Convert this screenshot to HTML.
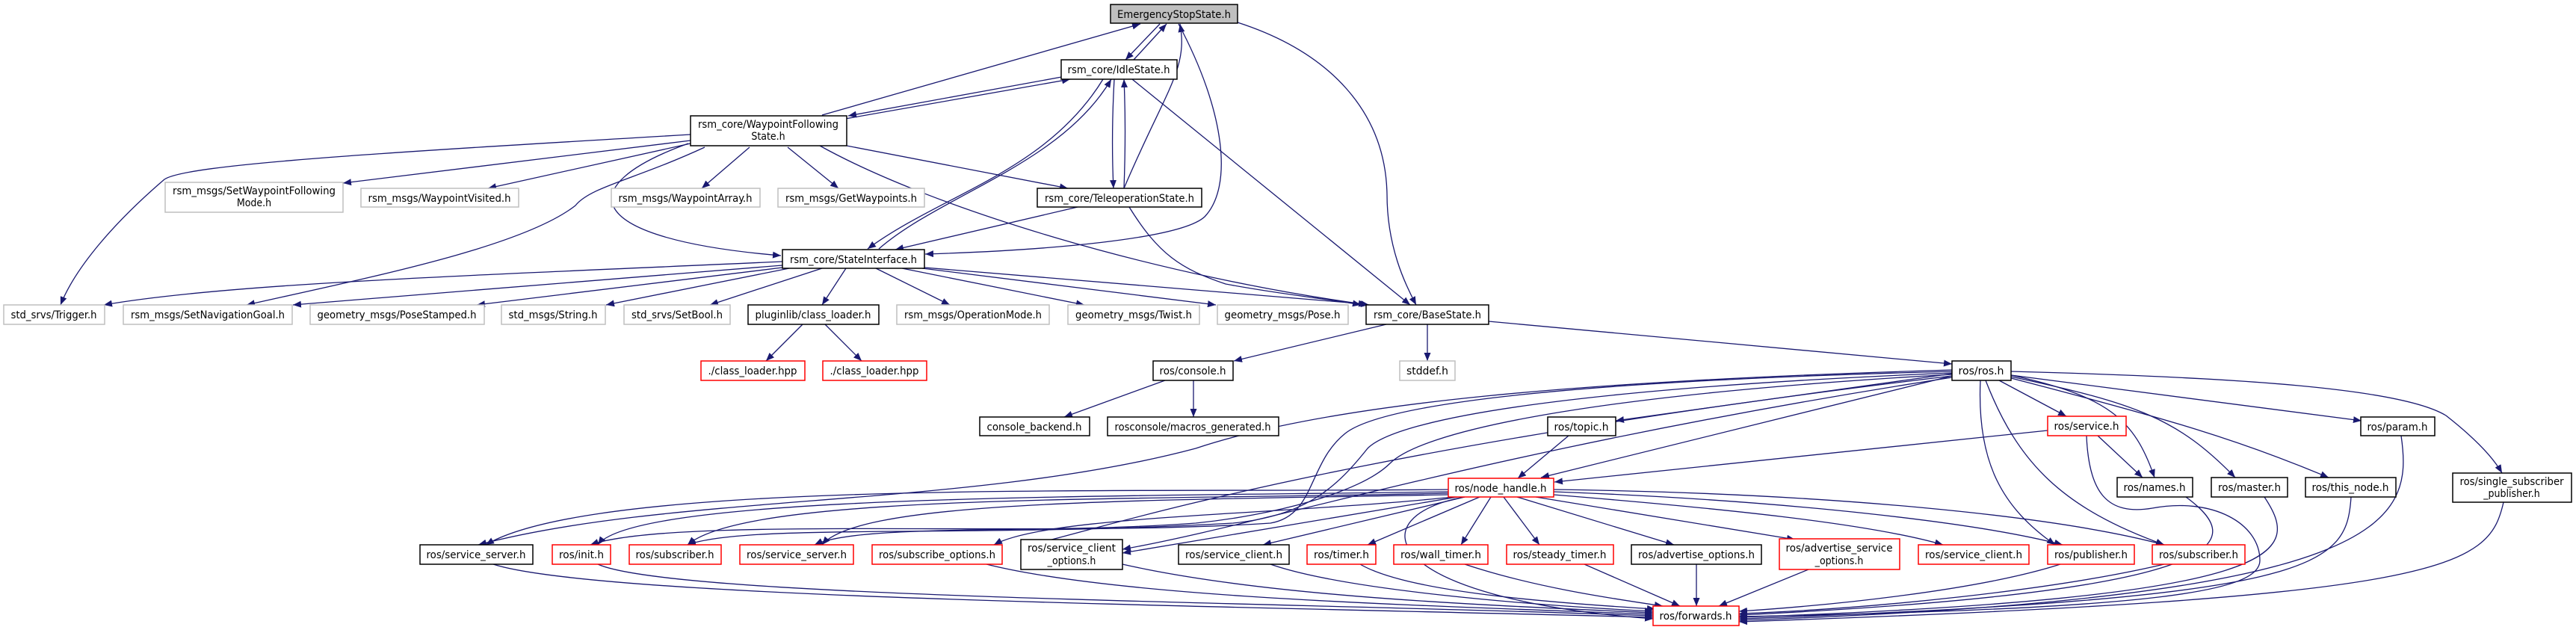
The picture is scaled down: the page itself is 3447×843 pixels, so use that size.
<!DOCTYPE html>
<html><head><meta charset="utf-8"><style>
html,body{margin:0;padding:0;background:#fff;}
svg{display:block;}
.e{fill:none;stroke:#191970;stroke-width:1.3;marker-end:url(#a);}
text{font-family:"DejaVu Sans Condensed","DejaVu Sans","Liberation Sans",sans-serif;font-size:14px;fill:#000;text-anchor:middle;}
.g{fill:#fff;stroke:#bfbfbf;stroke-width:1.5;}
.b{fill:#fff;stroke:#000;stroke-width:1.5;}
.r{fill:#fff;stroke:#ff0000;stroke-width:1.5;}
.s{fill:#bfbfbf;stroke:#000;stroke-width:1.5;}
</style></head><body>
<svg width="3447" height="843" viewBox="0 0 3447 843" xmlns="http://www.w3.org/2000/svg">
<defs><marker id="a" markerUnits="userSpaceOnUse" markerWidth="12" markerHeight="9" refX="11" refY="4.5" orient="auto"><path d="M0,0 L11,4.5 L0,9 z" fill="#191970"/></marker></defs>

<!-- edges -->
<path class="e" d="M1100,154 L1526,32"/>
<path class="e" d="M1552,32 L1506,80"/>
<path class="e" d="M1517,80 L1561,32"/>
<path class="e" d="M1504,252 C1560,120 1590,93 1579,32"/>
<path class="e" d="M1577,32 C1640,150 1650,250 1612,290 C1580,320 1400,335 1238,340"/>
<path class="e" d="M1656,30 C1780,70 1854,150 1856,260 C1856,330 1880,380 1895,408"/>
<path class="e" d="M1131,159 L1432,106"/>
<path class="e" d="M1426,102 L1135,155"/>
<path class="e" d="M1476,106 C1400,230 1260,260 1161,333"/>
<path class="e" d="M1176,333 C1260,260 1420,220 1487,106"/>
<path class="e" d="M1491,106 C1488,160 1488,210 1490,252"/>
<path class="e" d="M1504,252 C1506,200 1506,150 1504,106"/>
<path class="e" d="M1515,106 L1887,408"/>
<path class="e" d="M1133,195 L1429,252"/>
<path class="e" d="M1097,195 C1250,280 1550,370 1832,408"/>
<path class="e" d="M921,192 C760,250 780,320 1045,342"/>
<path class="e" d="M924,180 C500,205 250,220 220,240 C150,300 100,360 81,408"/>
<path class="e" d="M924,188 L459,245"/>
<path class="e" d="M924,192 L653,252"/>
<path class="e" d="M943,197 C850,240 790,250 770,275 C700,330 500,370 330,408"/>
<path class="e" d="M1003,197 L939,252"/>
<path class="e" d="M1054,197 L1122,252"/>
<path class="e" d="M1442,277 L1198,334"/>
<path class="e" d="M1511,277 C1550,340 1580,360 1640,380 C1720,395 1780,400 1821,408"/>
<path class="e" d="M1047,350 C600,370 300,380 139,408"/>
<path class="e" d="M1047,355 L392,408"/>
<path class="e" d="M1047,358 L638,408"/>
<path class="e" d="M1056,359 L811,408"/>
<path class="e" d="M1100,359 L950,408"/>
<path class="e" d="M1132,359 L1100,408"/>
<path class="e" d="M1172,359 L1271,408"/>
<path class="e" d="M1207,359 L1451,408"/>
<path class="e" d="M1234,359 L1627,408"/>
<path class="e" d="M1237,358 L1829,407"/>
<path class="e" d="M1074,434 L1025,483"/>
<path class="e" d="M1104,434 L1153,483"/>
<path class="e" d="M1855,434 L1651,483"/>
<path class="e" d="M1910,434 L1910,483"/>
<path class="e" d="M1992,430 L2612,487"/>
<path class="e" d="M1559,509 L1424,558"/>
<path class="e" d="M1597,509 L1597,558"/>
<path class="e" d="M2675,509 L2765,557"/>
<path class="e" d="M2691,502 L3160,563"/>
<path class="e" d="M2691,497 C3000,505 3214,520 3273,556 C3310,585 3335,610 3348,633"/>
<path class="e" d="M2691,502 C2820,530 2856,560 2883,639"/>
<path class="e" d="M2691,504 C2860,540 2914,560 2991,639"/>
<path class="e" d="M2691,506 C2900,560 3000,590 3116,639"/>
<path class="e" d="M2807,583 L2867,639"/>
<path class="e" d="M2740,576 L2080,645"/>
<path class="e" d="M2792,583 C2795,660 2820,690 2880,680 C2960,665 3024,700 3024,750 C3024,790 2900,815 2327,825"/>
<path class="e" d="M2612,500 L2162,563"/>
<path class="e" d="M2612,503 L2062,639"/>
<path class="e" d="M2650,509 C2645,620 2680,680 2750,729"/>
<path class="e" d="M2657,509 C2700,620 2760,680 2896,729"/>
<path class="e" d="M2099,583 L2031,640"/>
<!-- ros.h to left row -->
<path class="e" d="M2612,495 C2100,510 1780,540 1600,600 C1300,680 900,660 640,729"/>
<path class="e" d="M2612,497 C2100,510 1850,540 1800,580 C1750,620 1760,690 1700,700 C1400,720 900,690 790,729"/>
<path class="e" d="M2612,499 C2100,520 1870,560 1830,600 C1790,650 1750,690 1650,700 C1300,720 1000,700 920,729"/>
<path class="e" d="M2612,501 C2100,530 1900,580 1860,620 C1820,660 1700,690 1600,700 C1400,715 1150,700 1090,729"/>
<path class="e" d="M2612,503 C1800,600 1500,700 1380,729"/>
<path class="e" d="M2612,505 C2000,600 1700,700 1502,735"/>
<!-- node_handle to row -->
<path class="e" d="M1938,655 C1500,660 800,640 650,729"/>
<path class="e" d="M1938,658 C1500,665 850,660 800,729"/>
<path class="e" d="M1938,660 C1500,670 1000,660 920,729"/>
<path class="e" d="M1938,662 C1500,670 1150,670 1100,729"/>
<path class="e" d="M1945,665 C1700,690 1400,690 1330,729"/>
<path class="e" d="M1950,665 L1502,740"/>
<path class="e" d="M1960,665 L1690,729"/>
<path class="e" d="M1980,665 L1830,729"/>
<path class="e" d="M1995,665 L1955,729"/>
<path class="e" d="M2012,665 L2060,729"/>
<path class="e" d="M2030,665 L2240,729"/>
<path class="e" d="M2055,665 L2402,722"/>
<path class="e" d="M2079,662 C2300,680 2500,700 2600,729"/>
<path class="e" d="M2079,658 C2400,670 2650,700 2760,729"/>
<path class="e" d="M2079,655 C2450,660 2750,690 2896,729"/>
<path class="e" d="M1960,665 C1820,690 1840,800 2212,828"/>
<!-- to forwards -->
<path class="e" d="M660,755 C800,800 1600,810 2212,826"/>
<path class="e" d="M800,755 C900,800 1700,805 2212,824"/>
<path class="e" d="M1320,755 C1500,800 1900,810 2212,822"/>
<path class="e" d="M1502,755 C1700,800 2000,810 2212,820"/>
<path class="e" d="M1700,755 C1800,790 2050,810 2212,818"/>
<path class="e" d="M1820,755 C1880,790 2050,805 2215,815"/>
<path class="e" d="M1960,755 C2050,785 2150,800 2225,811"/>
<path class="e" d="M2120,755 L2248,811"/>
<path class="e" d="M2270,755 L2270,811"/>
<path class="e" d="M2420,762 L2300,811"/>
<path class="e" d="M2760,754 C2650,790 2450,810 2327,818"/>
<path class="e" d="M2900,754 C2750,790 2500,815 2327,821"/>
<path class="e" d="M2925,665 C3000,720 3020,790 2327,823"/>
<path class="e" d="M3030,665 C3080,740 3070,800 2327,826"/>
<path class="e" d="M3146,665 C3140,760 3100,800 2327,828"/>
<path class="e" d="M3213,583 C3230,700 3200,800 2327,830"/>
<path class="e" d="M3350,672 C3330,760 3280,800 2327,832"/>

<!-- nodes -->
<rect class="s" x="1486" y="6" width="170" height="25"/><text x="1571" y="24" textLength="152" lengthAdjust="spacingAndGlyphs">EmergencyStopState.h</text>
<rect class="b" x="1420" y="80" width="155" height="26"/><text x="1497" y="98" textLength="137" lengthAdjust="spacingAndGlyphs">rsm_core/IdleState.h</text>
<rect class="b" x="924" y="155" width="209" height="40"/><text x="1028" y="171" textLength="188" lengthAdjust="spacingAndGlyphs">rsm_core/WaypointFollowing</text><text x="1028" y="187">State.h</text>
<rect class="g" x="221" y="244" width="238" height="40"/><text x="340" y="260" textLength="218" lengthAdjust="spacingAndGlyphs">rsm_msgs/SetWaypointFollowing</text><text x="340" y="276">Mode.h</text>
<rect class="g" x="483" y="252" width="211" height="25"/><text x="588" y="270" textLength="191" lengthAdjust="spacingAndGlyphs">rsm_msgs/WaypointVisited.h</text>
<rect class="g" x="818" y="252" width="199" height="25"/><text x="917" y="270" textLength="179" lengthAdjust="spacingAndGlyphs">rsm_msgs/WaypointArray.h</text>
<rect class="g" x="1041" y="252" width="196" height="25"/><text x="1139" y="270" textLength="176" lengthAdjust="spacingAndGlyphs">rsm_msgs/GetWaypoints.h</text>
<rect class="b" x="1388" y="252" width="220" height="25"/><text x="1498" y="270" textLength="200" lengthAdjust="spacingAndGlyphs">rsm_core/TeleoperationState.h</text>
<rect class="b" x="1047" y="334" width="190" height="25"/><text x="1142" y="352" textLength="170" lengthAdjust="spacingAndGlyphs">rsm_core/StateInterface.h</text>
<rect class="g" x="5" y="408" width="135" height="26"/><text x="72" y="426" textLength="115" lengthAdjust="spacingAndGlyphs">std_srvs/Trigger.h</text>
<rect class="g" x="165" y="408" width="226" height="26"/><text x="278" y="426" textLength="206" lengthAdjust="spacingAndGlyphs">rsm_msgs/SetNavigationGoal.h</text>
<rect class="g" x="415" y="408" width="233" height="26"/><text x="531" y="426" textLength="213" lengthAdjust="spacingAndGlyphs">geometry_msgs/PoseStamped.h</text>
<rect class="g" x="671" y="408" width="139" height="26"/><text x="740" y="426" textLength="119" lengthAdjust="spacingAndGlyphs">std_msgs/String.h</text>
<rect class="g" x="835" y="408" width="142" height="26"/><text x="906" y="426" textLength="122" lengthAdjust="spacingAndGlyphs">std_srvs/SetBool.h</text>
<rect class="b" x="1001" y="408" width="175" height="26"/><text x="1088" y="426" textLength="155" lengthAdjust="spacingAndGlyphs">pluginlib/class_loader.h</text>
<rect class="g" x="1200" y="408" width="204" height="26"/><text x="1302" y="426" textLength="184" lengthAdjust="spacingAndGlyphs">rsm_msgs/OperationMode.h</text>
<rect class="g" x="1429" y="408" width="176" height="26"/><text x="1517" y="426" textLength="156" lengthAdjust="spacingAndGlyphs">geometry_msgs/Twist.h</text>
<rect class="g" x="1629" y="408" width="175" height="26"/><text x="1716" y="426" textLength="155" lengthAdjust="spacingAndGlyphs">geometry_msgs/Pose.h</text>
<rect class="b" x="1828" y="408" width="164" height="26"/><text x="1910" y="426" textLength="144" lengthAdjust="spacingAndGlyphs">rsm_core/BaseState.h</text>
<rect class="r" x="938" y="483" width="139" height="26"/><text x="1007" y="501" textLength="119" lengthAdjust="spacingAndGlyphs">./class_loader.hpp</text>
<rect class="r" x="1101" y="483" width="139" height="26"/><text x="1170" y="501" textLength="119" lengthAdjust="spacingAndGlyphs">./class_loader.hpp</text>
<rect class="b" x="1543" y="483" width="107" height="26"/><text x="1596" y="501" textLength="89" lengthAdjust="spacingAndGlyphs">ros/console.h</text>
<rect class="g" x="1873" y="483" width="74" height="26"/><text x="1910" y="501" textLength="56" lengthAdjust="spacingAndGlyphs">stddef.h</text>
<rect class="b" x="2612" y="483" width="79" height="26"/><text x="2651" y="501" textLength="61" lengthAdjust="spacingAndGlyphs">ros/ros.h</text>
<rect class="b" x="1311" y="558" width="147" height="25"/><text x="1384" y="576" textLength="127" lengthAdjust="spacingAndGlyphs">console_backend.h</text>
<rect class="b" x="1482" y="558" width="229" height="25"/><text x="1596" y="576" textLength="209" lengthAdjust="spacingAndGlyphs">rosconsole/macros_generated.h</text>
<rect class="b" x="2071" y="558" width="91" height="25"/><text x="2116" y="576" textLength="73" lengthAdjust="spacingAndGlyphs">ros/topic.h</text>
<rect class="r" x="2740" y="557" width="105" height="26"/><text x="2792" y="575" textLength="87" lengthAdjust="spacingAndGlyphs">ros/service.h</text>
<rect class="b" x="3159" y="558" width="99" height="25"/><text x="3208" y="576" textLength="81" lengthAdjust="spacingAndGlyphs">ros/param.h</text>
<rect class="r" x="1938" y="640" width="141" height="25"/><text x="2008" y="658" textLength="123" lengthAdjust="spacingAndGlyphs">ros/node_handle.h</text>
<rect class="b" x="2833" y="639" width="101" height="26"/><text x="2883" y="657" textLength="83" lengthAdjust="spacingAndGlyphs">ros/names.h</text>
<rect class="b" x="2959" y="639" width="102" height="26"/><text x="3010" y="657" textLength="84" lengthAdjust="spacingAndGlyphs">ros/master.h</text>
<rect class="b" x="3085" y="639" width="121" height="26"/><text x="3145" y="657" textLength="103" lengthAdjust="spacingAndGlyphs">ros/this_node.h</text>
<rect class="b" x="3282" y="633" width="159" height="39"/><text x="3361" y="649" textLength="139" lengthAdjust="spacingAndGlyphs">ros/single_subscriber</text><text x="3361" y="665">_publisher.h</text>

<rect class="b" x="562" y="729" width="151" height="26"/><text x="637" y="747" textLength="133" lengthAdjust="spacingAndGlyphs">ros/service_server.h</text>
<rect class="r" x="739" y="729" width="78" height="26"/><text x="778" y="747" textLength="60" lengthAdjust="spacingAndGlyphs">ros/init.h</text>
<rect class="r" x="842" y="729" width="123" height="26"/><text x="903" y="747" textLength="105" lengthAdjust="spacingAndGlyphs">ros/subscriber.h</text>
<rect class="r" x="990" y="729" width="152" height="26"/><text x="1066" y="747" textLength="134" lengthAdjust="spacingAndGlyphs">ros/service_server.h</text>
<rect class="r" x="1167" y="729" width="174" height="26"/><text x="1254" y="747" textLength="156" lengthAdjust="spacingAndGlyphs">ros/subscribe_options.h</text>
<rect class="b" x="1366" y="722" width="136" height="40"/><text x="1434" y="738" textLength="118" lengthAdjust="spacingAndGlyphs">ros/service_client</text><text x="1434" y="755">_options.h</text>
<rect class="b" x="1577" y="729" width="148" height="26"/><text x="1651" y="747" textLength="130" lengthAdjust="spacingAndGlyphs">ros/service_client.h</text>
<rect class="r" x="1749" y="729" width="92" height="26"/><text x="1795" y="747" textLength="74" lengthAdjust="spacingAndGlyphs">ros/timer.h</text>
<rect class="r" x="1865" y="729" width="126" height="26"/><text x="1928" y="747" textLength="108" lengthAdjust="spacingAndGlyphs">ros/wall_timer.h</text>
<rect class="r" x="2016" y="729" width="143" height="26"/><text x="2087" y="747" textLength="125" lengthAdjust="spacingAndGlyphs">ros/steady_timer.h</text>
<rect class="b" x="2183" y="729" width="174" height="26"/><text x="2270" y="747" textLength="156" lengthAdjust="spacingAndGlyphs">ros/advertise_options.h</text>
<rect class="r" x="2381" y="721" width="161" height="41"/><text x="2461" y="738" textLength="143" lengthAdjust="spacingAndGlyphs">ros/advertise_service</text><text x="2461" y="755">_options.h</text>
<rect class="r" x="2567" y="729" width="148" height="26"/><text x="2641" y="747" textLength="130" lengthAdjust="spacingAndGlyphs">ros/service_client.h</text>
<rect class="r" x="2740" y="729" width="116" height="26"/><text x="2798" y="747" textLength="98" lengthAdjust="spacingAndGlyphs">ros/publisher.h</text>
<rect class="r" x="2880" y="729" width="124" height="26"/><text x="2942" y="747" textLength="106" lengthAdjust="spacingAndGlyphs">ros/subscriber.h</text>
<rect class="r" x="2212" y="811" width="115" height="26"/><text x="2269" y="829" textLength="97" lengthAdjust="spacingAndGlyphs">ros/forwards.h</text>
</svg>
</body></html>
